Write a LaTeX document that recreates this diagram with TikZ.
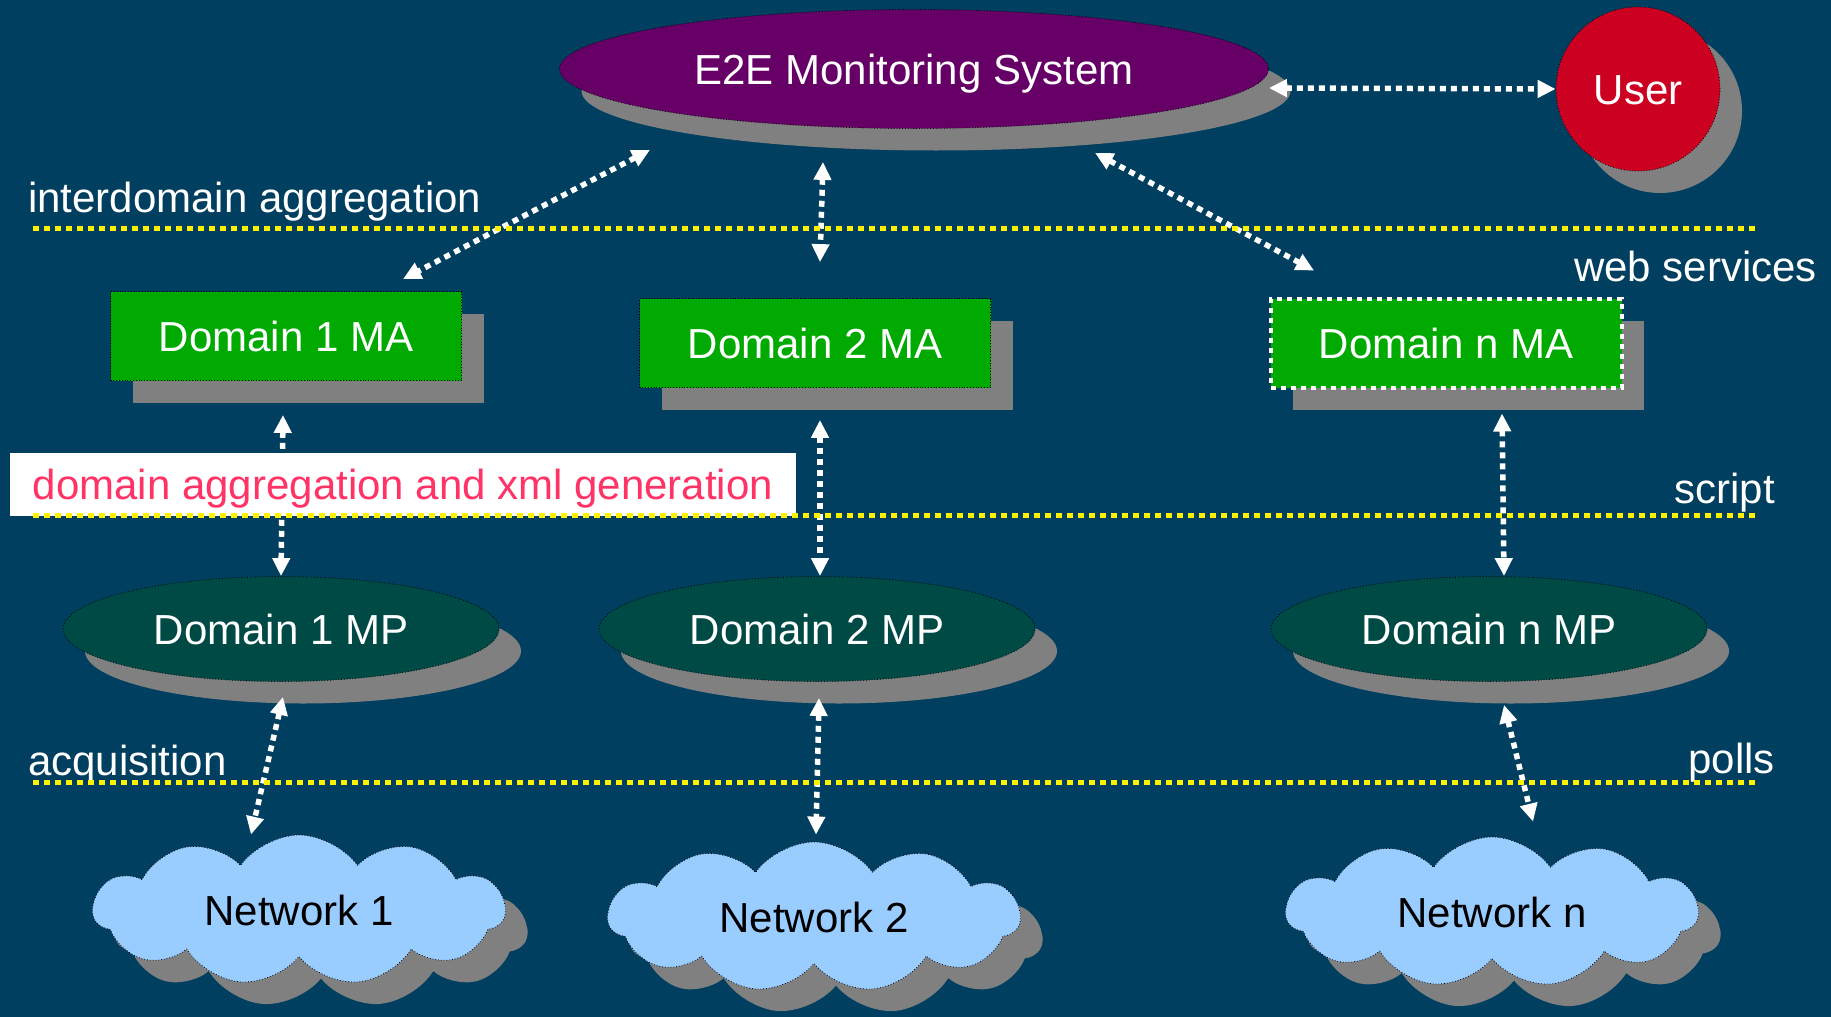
\documentclass[tikz,border=0pt]{standalone}
\usepackage{fontspec}
\setmainfont{Liberation Sans}
\usetikzlibrary{shapes.geometric,shapes.symbols,shadows,arrows.meta}
\definecolor{bgblue}{HTML}{003F5F}
\definecolor{e2epurple}{HTML}{660066}
\definecolor{userred}{HTML}{CC0020}
\definecolor{magreen}{HTML}{00AA00}
\definecolor{mpteal}{HTML}{004A46}
\definecolor{netblue}{HTML}{99CCFF}
\definecolor{shadowgray}{HTML}{808080}
\definecolor{labelpink}{HTML}{FF3366}

\begin{document}
\begin{tikzpicture}[
		x=1pt, y=-1pt,
		every node/.style={font=\fontsize{42}{48}\selectfont, inner sep=0pt, text=white, text height=30pt, text depth=0pt},
		grayshadow/.style={drop shadow={shadow xshift=22pt, shadow yshift=-22pt, fill=shadowgray, draw=none, opacity=1}},
		thinborder/.style={draw=black, line width=0.8pt, dotted},
		oval/.style={ellipse, thinborder, grayshadow},
		agent/.style={rectangle, thinborder, grayshadow, fill=magreen, minimum width=351pt, minimum height=89pt},
		probe/.style={oval, fill=mpteal, minimum width=436pt, minimum height=105pt},
		net/.style={cloud, cloud puffs=11, cloud puff arc=110, aspect=2.8, thinborder, grayshadow,
			fill=netblue, text=black, minimum width=412pt, minimum height=150pt},
		layer/.style={yellow, line width=5pt, dash pattern=on 6pt off 5pt},
		link/.style={white, line width=5.5pt, dash pattern=on 6pt off 5pt,
			{Triangle[length=18pt,width=17pt]}-{Triangle[length=18pt,width=17pt]}}
	]
  \fill[bgblue] (0,0) rectangle (1831,1017);
  \useasboundingbox (0,0) rectangle (1831,1017);
  \node (inter_label) [anchor=west] at (28,197) {interdomain aggregation};
  \node (ws_label) [anchor=east] at (1817,266) {web services};
  \node (script_label) [anchor=east] at (1775,488) {script};
  \node (acq_label) [anchor=west] at (28,760) {acquisition};
  \node (polls_label) [anchor=east] at (1775,758) {polls};
  \node (e2e) [oval, fill=e2epurple, minimum width=709pt, minimum height=119pt] at (914,69) {E2E Monitoring System};
  \node (user) [circle, thinborder, grayshadow, fill=userred, minimum size=164pt] at (1638,89) {User};
  \node (ma1) [agent] at (286,336) {Domain 1 MA};
  \node (ma2) [agent] at (815,343) {Domain 2 MA};
  \node (man) [agent, draw=white, solid, line width=4pt, dash pattern=on 5pt off 5pt] at (1446,343) {Domain n MA};
  \node (mp1) [probe] at (281,629) {Domain 1 MP};
  \node (mp2) [probe] at (817,629) {Domain 2 MP};
  \node (mpn) [probe] at (1489,629) {Domain n MP};
  \node (net1) [net] at (299,910) {Network 1};
  \node (net2) [net] at (814,917) {Network 2};
  \node (netn) [net] at (1492,912) {Network n};
  \draw[link] ([yshift=-19pt]e2e.east) -- (user.west);
  \draw[link] ([xshift=-264pt,yshift=-21pt]e2e.south) -- ([xshift=117pt,yshift=12pt]ma1.north);
  \draw[link] ([xshift=-91pt,yshift=-33pt]e2e.south) -- ([xshift=5pt,yshift=36pt]ma2.north);
  \draw[link] ([xshift=181pt,yshift=-24pt]e2e.south) -- ([xshift=-132pt,yshift=26pt]man.north);
  \draw[link] ([xshift=-3pt,yshift=-34pt]ma1.south) -- (mp1.north);
  \draw[link] ([xshift=5pt,yshift=-32pt]ma2.south) -- ([xshift=3pt]mp2.north);
  \draw[link] ([xshift=56pt,yshift=-24pt]man.south) -- ([xshift=15pt]mpn.north);
  \draw[link] ([xshift=2pt,yshift=-15pt]mp1.south) -- ([xshift=-48pt]net1.north);
  \draw[link] ([xshift=2pt,yshift=-16pt]mp2.south) -- ([xshift=2pt,yshift=7pt]net2.north);
  \draw[link] ([xshift=15pt,yshift=-23pt]mpn.south) -- ([xshift=41pt,yshift=15pt]netn.north);
  \node (xml_box) [fill=white, text=labelpink, minimum width=786pt, minimum height=63pt] at (403,484.5) {domain aggregation and xml generation};
  \draw[layer] (33,228) -- (1755,228);
  \draw[layer] (33,515) -- (1755,515);
  \draw[layer] (33,782) -- (1755,782);
\end{tikzpicture}
\end{document}
